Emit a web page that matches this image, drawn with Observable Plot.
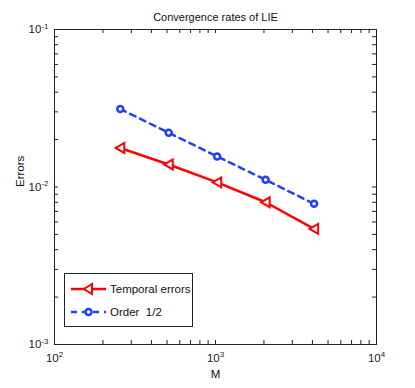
<!DOCTYPE html>
<html><head><meta charset="utf-8">
<script src="https://cdn.jsdelivr.net/npm/d3@7"></script>
<script src="https://cdn.jsdelivr.net/npm/@observablehq/plot@0.6"></script>
<style>
body{margin:0;background:#fff;}
#chart svg{display:block;font-family:"Liberation Sans",Arial,sans-serif;}
</style></head>
<body><div id="chart"></div>
<script>
const M = [256, 512, 1024, 2048, 4096];
const temporalErrors = [0.0177, 0.0139, 0.0107, 0.0080, 0.00542];
const orderHalf = [0.0313, 0.0221, 0.01563, 0.0111, 0.00782];
const xTicks = [100, 1000, 10000];
const yTicks = [0.001, 0.01, 0.1];
const seriesNames = ["Temporal errors", "Order  1/2"];
const titleText = "Convergence rates of LIE";
const xLabel = "M";
const yLabel = "Errors";

const RED = "#ff0000", BLUE = "#2040ff";
const W = 415, Hgt = 388, mL = 54, mR = 39, mT = 29, mB = 44;
const innerH = Hgt - mT - mB, innerW = W - mL - mR, tl = 4;

const red = M.map((m, i) => ({m, e: temporalErrors[i]}));
const blue = M.map((m, i) => ({m, e: orderHalf[i]}));

function minors(ticks) {
  const out = [];
  for (let k = 0; k < ticks.length - 1; k++)
    for (let j = 1; j <= 9; j++) out.push(ticks[k] * j);
  out.push(ticks[ticks.length - 1]);
  return out;
}
const xAll = minors(xTicks), yAll = minors(yTicks);

const triLeft = {
  draw(ctx, size) {
    const s = Math.sqrt(size / Math.PI);
    ctx.moveTo(-s, 0);
    ctx.lineTo(s * 0.9, -s * 1.1);
    ctx.lineTo(s * 0.9, s * 1.1);
    ctx.closePath();
  }
};

const fmt = d => "10^" + Math.round(Math.log10(d));

const chart = Plot.plot({
  width: W, height: Hgt,
  marginLeft: mL, marginRight: mR, marginTop: mT, marginBottom: mB,
  style: {fontFamily: "Liberation Sans, Arial, sans-serif", fontSize: "11px", color: "#222"},
  x: {type: "log", domain: [100, 10000]},
  y: {type: "log", domain: [0.001, 0.1]},
  marks: [
    Plot.axisX({ticks: xTicks, tickSize: 0, tickPadding: 9, tickFormat: fmt, label: null, fontSize: 11.5}),
    Plot.axisY({ticks: yTicks, tickSize: 0, tickPadding: 6, tickFormat: fmt, label: null, fontSize: 11.5}),
    Plot.tickX(xAll, {x: d => d, insetBottom: innerH - tl, stroke: "#222"}),
    Plot.tickX(xAll, {x: d => d, insetTop: innerH - tl, stroke: "#222"}),
    Plot.tickY(yAll, {y: d => d, insetRight: innerW - tl, stroke: "#222"}),
    Plot.tickY(yAll, {y: d => d, insetLeft: innerW - tl, stroke: "#222"}),
    Plot.frame({stroke: "#222"}),
    Plot.line(blue, {x: "m", y: "e", stroke: BLUE, strokeWidth: 2.5, strokeDasharray: "6,5"}),
    Plot.dot(blue, {x: "m", y: "e", r: 3, stroke: BLUE, strokeWidth: 2.5, fill: "white"}),
    Plot.line(red, {x: "m", y: "e", stroke: RED, strokeWidth: 2.5}),
    Plot.dot(red, {x: "m", y: "e", r: 4.5, symbol: triLeft, stroke: RED, strokeWidth: 2, fill: "white"}),
    Plot.text([titleText], {frameAnchor: "top", dy: -16, fontSize: 11, fill: "#111"}),
    Plot.text([xLabel], {frameAnchor: "bottom", dy: 33, fontSize: 11.5, fill: "#111"}),
    Plot.text([yLabel], {frameAnchor: "left", dx: -34, rotate: -90, fontSize: 11.5, fill: "#111"})
  ]
});

// superscript exponents in tick labels
d3.select(chart).selectAll('g[aria-label$="tick label"] text').each(function() {
  const t = d3.select(this);
  const s = t.text();
  if (!s.includes("^")) return;
  const [base, exp] = s.split("^");
  t.text(base);
  t.append("tspan").attr("dy", "-0.55em").attr("font-size", "8px").text(exp);
});

// legend
const lg = d3.select(chart).append("g").attr("font-size", 11.5)
  .attr("font-family", "Liberation Sans, Arial, sans-serif").attr("text-anchor", "start");
lg.append("rect").attr("x", 64.5).attr("y", 273.5).attr("width", 128).attr("height", 53)
  .attr("fill", "white").attr("stroke", "#222");
const rows = [{y: 289, c: RED, dash: null, name: seriesNames[0], sym: "tri"},
              {y: 312, c: BLUE, dash: "6,5", name: seriesNames[1], sym: "circ"}];
rows.forEach(r => {
  lg.append("line").attr("x1", 71).attr("x2", 106).attr("y1", r.y).attr("y2", r.y)
    .attr("stroke", r.c).attr("stroke-width", 2.5).attr("stroke-dasharray", r.dash);
  if (r.sym === "tri") {
    lg.append("path").attr("d", "M84,289L92,284L92,294Z").attr("fill", "white").attr("stroke", r.c).attr("stroke-width", 2);
  } else {
    lg.append("circle").attr("cx", 88.5).attr("cy", r.y).attr("r", 3).attr("fill", "white").attr("stroke", r.c).attr("stroke-width", 2.5);
  }
  lg.append("text").attr("x", 110).attr("y", r.y).attr("dy", "0.35em").attr("fill", "#111").text(r.name);
});

document.getElementById("chart").append(chart);
</script></body></html>
